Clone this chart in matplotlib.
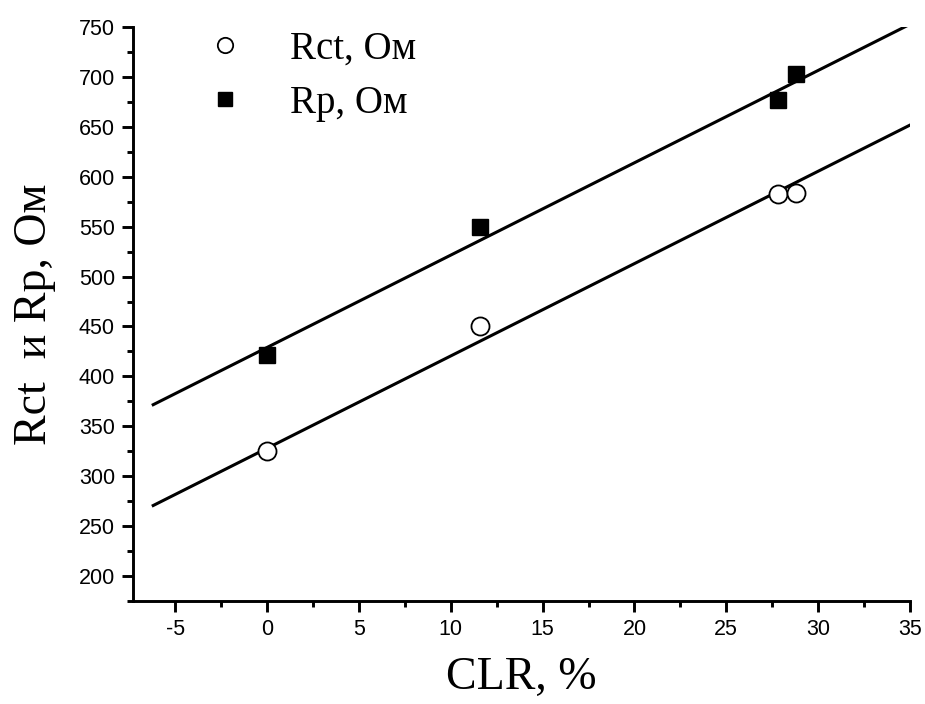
import matplotlib
matplotlib.use("Agg")
import matplotlib.pyplot as plt
import numpy as np
from matplotlib.ticker import MultipleLocator

plt.rcParams["axes.unicode_minus"] = False

# Data
clr = [0.0, 11.6, 27.8, 28.8]
rct = [325, 450, 583, 584]
rp = [421, 550, 677, 703]
# Linear fit lines (intercept at x=0, slope)
fit_intercept = [328.0, 429.0]
fit_slope = [9.25, 9.25]
fit_x = [-6.2, 35.0]
series_labels = ["Rct, Ом", "Rp, Ом"]

fig = plt.figure(figsize=(9.25, 7.04), dpi=100)
ax = fig.add_axes([133/925, 1-601/704, (910-133)/925, (601-27)/704])

serif = ["Liberation Serif", "DejaVu Serif"]
sans = ["Liberation Sans", "DejaVu Sans"]

fx = np.array(fit_x)
for b, m in zip(fit_intercept, fit_slope):
    ax.plot(fx, b + m*fx, color="black", lw=2.2, zorder=2)

ax.plot(clr, rct, linestyle="none", marker="o", ms=13, mfc="white", mec="black", mew=1.3,
        label=series_labels[0], zorder=3)
ax.plot(clr, rp, linestyle="none", marker="s", ms=12, mfc="black", mec="black",
        label=series_labels[1], zorder=3)

ax.set_xlim(-7.3, 35)
ax.set_ylim(175, 750)
ax.xaxis.set_minor_locator(MultipleLocator(2.5))
ax.yaxis.set_minor_locator(MultipleLocator(25))
ax.set_yticks(np.arange(200, 751, 50))
ax.set_xticks(np.arange(-5, 36, 5))

for s in ["top", "right"]:
    ax.spines[s].set_visible(False)
for s in ["left", "bottom"]:
    ax.spines[s].set_linewidth(2.1)

ax.tick_params(which="major", direction="out", length=8, width=2.1, labelsize=15.5, pad=5)
ax.tick_params(which="minor", direction="out", length=4.5, width=2.1)
for lab in ax.get_xticklabels() + ax.get_yticklabels():
    lab.set_fontfamily(sans)

ax.set_xlabel("CLR, %", fontsize=33, family=serif, labelpad=12)
ax.set_ylabel("Rct  и Rp, Ом", fontsize=33, family=serif, labelpad=16)

leg = ax.legend(loc="upper left", bbox_to_anchor=(178/925, 1-3/704), bbox_transform=fig.transFigure,
                frameon=False, prop={"family": serif, "size": 28}, markerscale=0.85,
                handlelength=1.0, handletextpad=1.17, labelspacing=0.45, borderpad=0.2)

fig.savefig("out.png", dpi=100)
